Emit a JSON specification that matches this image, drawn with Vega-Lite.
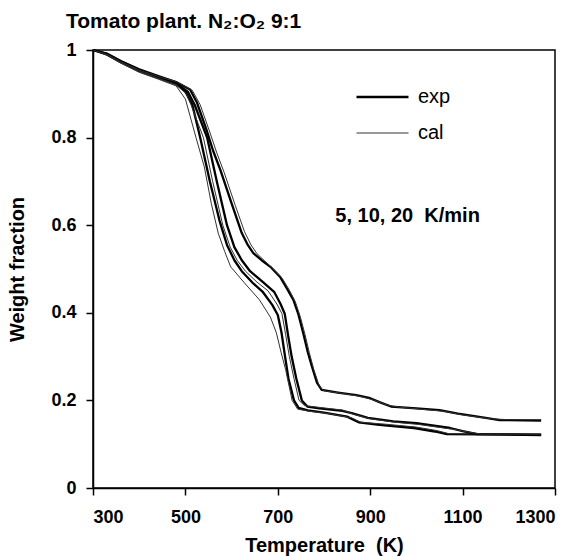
{
  "$schema": "https://vega.github.io/schema/vega-lite/v6.json",
  "width": 462,
  "height": 438,
  "autosize": {"type": "none"},
  "padding": {"left": 93, "top": 50, "right": 14, "bottom": 68},
  "background": "white",
  "config": {
    "font": "Liberation Sans",
    "view": {"stroke": "black", "strokeWidth": 1.5},
    "axis": {
      "grid": false,
      "domainColor": "black",
      "domainWidth": 1.5,
      "tickColor": "black",
      "tickWidth": 1.5,
      "tickSize": 7,
      "labelColor": "black",
      "labelFont": "Liberation Sans",
      "labelFontSize": 18,
      "labelFontWeight": "bold",
      "titleColor": "black",
      "titleFont": "Liberation Sans",
      "titleFontSize": 20,
      "titleFontWeight": "bold"
    }
  },
  "title": {
    "text": "Tomato plant. N₂:O₂ 9:1",
    "anchor": "start",
    "font": "Liberation Sans",
    "fontSize": 21,
    "fontWeight": "bold",
    "color": "black",
    "baseline": "alphabetic",
    "offset": 22,
    "dx": 58,
    "dy": 30
  },
  "datasets": {
    "curves": [
      {"rate": 5, "type": "exp", "T": 300, "w": 1.0},
      {"rate": 5, "type": "exp", "T": 330, "w": 0.99},
      {"rate": 5, "type": "exp", "T": 360, "w": 0.972},
      {"rate": 5, "type": "exp", "T": 400, "w": 0.952},
      {"rate": 5, "type": "exp", "T": 440, "w": 0.937},
      {"rate": 5, "type": "exp", "T": 480, "w": 0.922},
      {"rate": 5, "type": "exp", "T": 500, "w": 0.905},
      {"rate": 5, "type": "exp", "T": 515, "w": 0.875},
      {"rate": 5, "type": "exp", "T": 532, "w": 0.8},
      {"rate": 5, "type": "exp", "T": 553, "w": 0.7},
      {"rate": 5, "type": "exp", "T": 574, "w": 0.61},
      {"rate": 5, "type": "exp", "T": 590, "w": 0.555},
      {"rate": 5, "type": "exp", "T": 606, "w": 0.52},
      {"rate": 5, "type": "exp", "T": 622, "w": 0.495},
      {"rate": 5, "type": "exp", "T": 646, "w": 0.468},
      {"rate": 5, "type": "exp", "T": 668, "w": 0.447},
      {"rate": 5, "type": "exp", "T": 688, "w": 0.418},
      {"rate": 5, "type": "exp", "T": 700, "w": 0.395},
      {"rate": 5, "type": "exp", "T": 708, "w": 0.355},
      {"rate": 5, "type": "exp", "T": 715, "w": 0.305},
      {"rate": 5, "type": "exp", "T": 723, "w": 0.25},
      {"rate": 5, "type": "exp", "T": 735, "w": 0.2},
      {"rate": 5, "type": "exp", "T": 745, "w": 0.183},
      {"rate": 5, "type": "exp", "T": 765, "w": 0.177},
      {"rate": 5, "type": "exp", "T": 800, "w": 0.172},
      {"rate": 5, "type": "exp", "T": 850, "w": 0.163},
      {"rate": 5, "type": "exp", "T": 875, "w": 0.15},
      {"rate": 5, "type": "exp", "T": 920, "w": 0.144},
      {"rate": 5, "type": "exp", "T": 995, "w": 0.137},
      {"rate": 5, "type": "exp", "T": 1040, "w": 0.129},
      {"rate": 5, "type": "exp", "T": 1066, "w": 0.123},
      {"rate": 5, "type": "exp", "T": 1270, "w": 0.121},

      {"rate": 5, "type": "cal", "T": 300, "w": 1.0},
      {"rate": 5, "type": "cal", "T": 330, "w": 0.988},
      {"rate": 5, "type": "cal", "T": 360, "w": 0.97},
      {"rate": 5, "type": "cal", "T": 400, "w": 0.949},
      {"rate": 5, "type": "cal", "T": 440, "w": 0.934},
      {"rate": 5, "type": "cal", "T": 480, "w": 0.918},
      {"rate": 5, "type": "cal", "T": 500, "w": 0.888},
      {"rate": 5, "type": "cal", "T": 523, "w": 0.8},
      {"rate": 5, "type": "cal", "T": 541, "w": 0.733},
      {"rate": 5, "type": "cal", "T": 556, "w": 0.65},
      {"rate": 5, "type": "cal", "T": 571, "w": 0.582},
      {"rate": 5, "type": "cal", "T": 585, "w": 0.54},
      {"rate": 5, "type": "cal", "T": 598, "w": 0.505},
      {"rate": 5, "type": "cal", "T": 628, "w": 0.468},
      {"rate": 5, "type": "cal", "T": 660, "w": 0.43},
      {"rate": 5, "type": "cal", "T": 684, "w": 0.39},
      {"rate": 5, "type": "cal", "T": 697, "w": 0.354},
      {"rate": 5, "type": "cal", "T": 707, "w": 0.31},
      {"rate": 5, "type": "cal", "T": 717, "w": 0.27},
      {"rate": 5, "type": "cal", "T": 731, "w": 0.2},
      {"rate": 5, "type": "cal", "T": 743, "w": 0.18},
      {"rate": 5, "type": "cal", "T": 770, "w": 0.175},
      {"rate": 5, "type": "cal", "T": 810, "w": 0.17},
      {"rate": 5, "type": "cal", "T": 860, "w": 0.16},
      {"rate": 5, "type": "cal", "T": 880, "w": 0.15},
      {"rate": 5, "type": "cal", "T": 930, "w": 0.146},
      {"rate": 5, "type": "cal", "T": 1000, "w": 0.139},
      {"rate": 5, "type": "cal", "T": 1045, "w": 0.131},
      {"rate": 5, "type": "cal", "T": 1070, "w": 0.124},
      {"rate": 5, "type": "cal", "T": 1270, "w": 0.122},

      {"rate": 10, "type": "exp", "T": 300, "w": 1.0},
      {"rate": 10, "type": "exp", "T": 330, "w": 0.991},
      {"rate": 10, "type": "exp", "T": 360, "w": 0.974},
      {"rate": 10, "type": "exp", "T": 400, "w": 0.954},
      {"rate": 10, "type": "exp", "T": 440, "w": 0.939},
      {"rate": 10, "type": "exp", "T": 480, "w": 0.924},
      {"rate": 10, "type": "exp", "T": 505, "w": 0.905},
      {"rate": 10, "type": "exp", "T": 520, "w": 0.875},
      {"rate": 10, "type": "exp", "T": 547, "w": 0.8},
      {"rate": 10, "type": "exp", "T": 568, "w": 0.7},
      {"rate": 10, "type": "exp", "T": 590, "w": 0.6},
      {"rate": 10, "type": "exp", "T": 606, "w": 0.55},
      {"rate": 10, "type": "exp", "T": 622, "w": 0.52},
      {"rate": 10, "type": "exp", "T": 640, "w": 0.495},
      {"rate": 10, "type": "exp", "T": 668, "w": 0.47},
      {"rate": 10, "type": "exp", "T": 692, "w": 0.448},
      {"rate": 10, "type": "exp", "T": 706, "w": 0.42},
      {"rate": 10, "type": "exp", "T": 715, "w": 0.398},
      {"rate": 10, "type": "exp", "T": 722, "w": 0.35},
      {"rate": 10, "type": "exp", "T": 730, "w": 0.3},
      {"rate": 10, "type": "exp", "T": 740, "w": 0.25},
      {"rate": 10, "type": "exp", "T": 752, "w": 0.2},
      {"rate": 10, "type": "exp", "T": 764, "w": 0.186},
      {"rate": 10, "type": "exp", "T": 790, "w": 0.182},
      {"rate": 10, "type": "exp", "T": 840, "w": 0.176},
      {"rate": 10, "type": "exp", "T": 860, "w": 0.171},
      {"rate": 10, "type": "exp", "T": 895, "w": 0.16},
      {"rate": 10, "type": "exp", "T": 950, "w": 0.152},
      {"rate": 10, "type": "exp", "T": 1000, "w": 0.148},
      {"rate": 10, "type": "exp", "T": 1073, "w": 0.137},
      {"rate": 10, "type": "exp", "T": 1100, "w": 0.13},
      {"rate": 10, "type": "exp", "T": 1132, "w": 0.123},
      {"rate": 10, "type": "exp", "T": 1270, "w": 0.122},

      {"rate": 10, "type": "cal", "T": 300, "w": 1.0},
      {"rate": 10, "type": "cal", "T": 330, "w": 0.989},
      {"rate": 10, "type": "cal", "T": 360, "w": 0.971},
      {"rate": 10, "type": "cal", "T": 400, "w": 0.951},
      {"rate": 10, "type": "cal", "T": 440, "w": 0.936},
      {"rate": 10, "type": "cal", "T": 480, "w": 0.921},
      {"rate": 10, "type": "cal", "T": 502, "w": 0.9},
      {"rate": 10, "type": "cal", "T": 512, "w": 0.875},
      {"rate": 10, "type": "cal", "T": 539, "w": 0.8},
      {"rate": 10, "type": "cal", "T": 559, "w": 0.7},
      {"rate": 10, "type": "cal", "T": 581, "w": 0.6},
      {"rate": 10, "type": "cal", "T": 597, "w": 0.55},
      {"rate": 10, "type": "cal", "T": 612, "w": 0.52},
      {"rate": 10, "type": "cal", "T": 630, "w": 0.495},
      {"rate": 10, "type": "cal", "T": 655, "w": 0.47},
      {"rate": 10, "type": "cal", "T": 679, "w": 0.45},
      {"rate": 10, "type": "cal", "T": 698, "w": 0.42},
      {"rate": 10, "type": "cal", "T": 709, "w": 0.398},
      {"rate": 10, "type": "cal", "T": 717, "w": 0.35},
      {"rate": 10, "type": "cal", "T": 725, "w": 0.3},
      {"rate": 10, "type": "cal", "T": 735, "w": 0.25},
      {"rate": 10, "type": "cal", "T": 746, "w": 0.2},
      {"rate": 10, "type": "cal", "T": 758, "w": 0.188},
      {"rate": 10, "type": "cal", "T": 790, "w": 0.184},
      {"rate": 10, "type": "cal", "T": 840, "w": 0.178},
      {"rate": 10, "type": "cal", "T": 865, "w": 0.168},
      {"rate": 10, "type": "cal", "T": 900, "w": 0.158},
      {"rate": 10, "type": "cal", "T": 955, "w": 0.15},
      {"rate": 10, "type": "cal", "T": 1005, "w": 0.145},
      {"rate": 10, "type": "cal", "T": 1080, "w": 0.134},
      {"rate": 10, "type": "cal", "T": 1110, "w": 0.128},
      {"rate": 10, "type": "cal", "T": 1140, "w": 0.123},
      {"rate": 10, "type": "cal", "T": 1270, "w": 0.123},

      {"rate": 20, "type": "exp", "T": 300, "w": 1.0},
      {"rate": 20, "type": "exp", "T": 330, "w": 0.992},
      {"rate": 20, "type": "exp", "T": 360, "w": 0.975},
      {"rate": 20, "type": "exp", "T": 400, "w": 0.956},
      {"rate": 20, "type": "exp", "T": 440, "w": 0.941},
      {"rate": 20, "type": "exp", "T": 480, "w": 0.927},
      {"rate": 20, "type": "exp", "T": 510, "w": 0.91},
      {"rate": 20, "type": "exp", "T": 525, "w": 0.88},
      {"rate": 20, "type": "exp", "T": 545, "w": 0.82},
      {"rate": 20, "type": "exp", "T": 560, "w": 0.77},
      {"rate": 20, "type": "exp", "T": 576, "w": 0.725},
      {"rate": 20, "type": "exp", "T": 600, "w": 0.65},
      {"rate": 20, "type": "exp", "T": 622, "w": 0.582},
      {"rate": 20, "type": "exp", "T": 635, "w": 0.555},
      {"rate": 20, "type": "exp", "T": 647, "w": 0.536},
      {"rate": 20, "type": "exp", "T": 665, "w": 0.52},
      {"rate": 20, "type": "exp", "T": 684, "w": 0.505},
      {"rate": 20, "type": "exp", "T": 705, "w": 0.482},
      {"rate": 20, "type": "exp", "T": 720, "w": 0.455},
      {"rate": 20, "type": "exp", "T": 734, "w": 0.429},
      {"rate": 20, "type": "exp", "T": 745, "w": 0.395},
      {"rate": 20, "type": "exp", "T": 755, "w": 0.354},
      {"rate": 20, "type": "exp", "T": 765, "w": 0.31},
      {"rate": 20, "type": "exp", "T": 774, "w": 0.277},
      {"rate": 20, "type": "exp", "T": 785, "w": 0.24},
      {"rate": 20, "type": "exp", "T": 795, "w": 0.224},
      {"rate": 20, "type": "exp", "T": 830, "w": 0.218},
      {"rate": 20, "type": "exp", "T": 870, "w": 0.212},
      {"rate": 20, "type": "exp", "T": 900, "w": 0.205},
      {"rate": 20, "type": "exp", "T": 920, "w": 0.196},
      {"rate": 20, "type": "exp", "T": 945, "w": 0.186},
      {"rate": 20, "type": "exp", "T": 1000, "w": 0.182},
      {"rate": 20, "type": "exp", "T": 1050, "w": 0.178},
      {"rate": 20, "type": "exp", "T": 1090, "w": 0.17},
      {"rate": 20, "type": "exp", "T": 1150, "w": 0.16},
      {"rate": 20, "type": "exp", "T": 1180, "w": 0.155},
      {"rate": 20, "type": "exp", "T": 1270, "w": 0.154},

      {"rate": 20, "type": "cal", "T": 300, "w": 1.0},
      {"rate": 20, "type": "cal", "T": 330, "w": 0.99},
      {"rate": 20, "type": "cal", "T": 360, "w": 0.973},
      {"rate": 20, "type": "cal", "T": 400, "w": 0.954},
      {"rate": 20, "type": "cal", "T": 440, "w": 0.94},
      {"rate": 20, "type": "cal", "T": 480, "w": 0.928},
      {"rate": 20, "type": "cal", "T": 515, "w": 0.908},
      {"rate": 20, "type": "cal", "T": 532, "w": 0.875},
      {"rate": 20, "type": "cal", "T": 552, "w": 0.815},
      {"rate": 20, "type": "cal", "T": 568, "w": 0.765},
      {"rate": 20, "type": "cal", "T": 584, "w": 0.72},
      {"rate": 20, "type": "cal", "T": 608, "w": 0.645},
      {"rate": 20, "type": "cal", "T": 628, "w": 0.585},
      {"rate": 20, "type": "cal", "T": 642, "w": 0.555},
      {"rate": 20, "type": "cal", "T": 655, "w": 0.535},
      {"rate": 20, "type": "cal", "T": 672, "w": 0.518},
      {"rate": 20, "type": "cal", "T": 690, "w": 0.5},
      {"rate": 20, "type": "cal", "T": 710, "w": 0.478},
      {"rate": 20, "type": "cal", "T": 725, "w": 0.452},
      {"rate": 20, "type": "cal", "T": 738, "w": 0.425},
      {"rate": 20, "type": "cal", "T": 749, "w": 0.39},
      {"rate": 20, "type": "cal", "T": 759, "w": 0.35},
      {"rate": 20, "type": "cal", "T": 768, "w": 0.31},
      {"rate": 20, "type": "cal", "T": 778, "w": 0.27},
      {"rate": 20, "type": "cal", "T": 790, "w": 0.232},
      {"rate": 20, "type": "cal", "T": 800, "w": 0.222},
      {"rate": 20, "type": "cal", "T": 840, "w": 0.216},
      {"rate": 20, "type": "cal", "T": 880, "w": 0.209},
      {"rate": 20, "type": "cal", "T": 910, "w": 0.2},
      {"rate": 20, "type": "cal", "T": 935, "w": 0.19},
      {"rate": 20, "type": "cal", "T": 960, "w": 0.185},
      {"rate": 20, "type": "cal", "T": 1010, "w": 0.18},
      {"rate": 20, "type": "cal", "T": 1060, "w": 0.175},
      {"rate": 20, "type": "cal", "T": 1100, "w": 0.167},
      {"rate": 20, "type": "cal", "T": 1160, "w": 0.158},
      {"rate": 20, "type": "cal", "T": 1200, "w": 0.156},
      {"rate": 20, "type": "cal", "T": 1270, "w": 0.156}
    ],
    "note": [
      {"T": 981, "w": 0.622, "label": "5, 10, 20 \u00a0K/min"}
    ]
  },
  "encoding": {
    "x": {
      "field": "T",
      "type": "quantitative",
      "scale": {"domain": [300, 1300], "nice": false, "zero": false},
      "axis": {
        "title": "Temperature \u00a0(K)",
        "values": [300, 500, 700, 900, 1100, 1300],
        "format": "d",
        "labelPadding": 13,
        "titleBaseline": "alphabetic",
        "titleY": 63
      }
    },
    "y": {
      "field": "w",
      "type": "quantitative",
      "scale": {"domain": [0, 1], "nice": false},
      "axis": {
        "title": "Weight fraction",
        "values": [0, 0.2, 0.4, 0.6, 0.8, 1],
        "format": "~g",
        "labelPadding": 10,
        "titlePadding": 23
      }
    }
  },
  "layer": [
    {
      "data": {"name": "curves"},
      "mark": {"type": "line", "strokeJoin": "round", "strokeCap": "butt"},
      "encoding": {
        "detail": {"field": "rate", "type": "nominal"},
        "color": {
          "field": "type",
          "type": "nominal",
          "scale": {"domain": ["exp", "cal"], "range": ["#000000", "#333333"]},
          "legend": {
            "orient": "none",
            "legendX": 262,
            "legendY": 37,
            "title": null,
            "padding": 0,
            "symbolType": "stroke",
            "symbolSize": 2704,
            "labelFontSize": 20,
            "labelFont": "Liberation Sans",
            "labelColor": "black",
            "labelOffset": 8,
            "clipHeight": 20,
            "rowPadding": 16
          }
        },
        "strokeWidth": {
          "field": "type",
          "type": "nominal",
          "scale": {"domain": ["exp", "cal"], "range": [2.3, 1]}
        }
      }
    },
    {
      "data": {"name": "note"},
      "mark": {
        "type": "text",
        "font": "Liberation Sans",
        "fontSize": 20,
        "fontWeight": "bold",
        "color": "black",
        "align": "center",
        "baseline": "middle"
      },
      "encoding": {
        "text": {"field": "label", "type": "nominal"}
      }
    }
  ]
}
